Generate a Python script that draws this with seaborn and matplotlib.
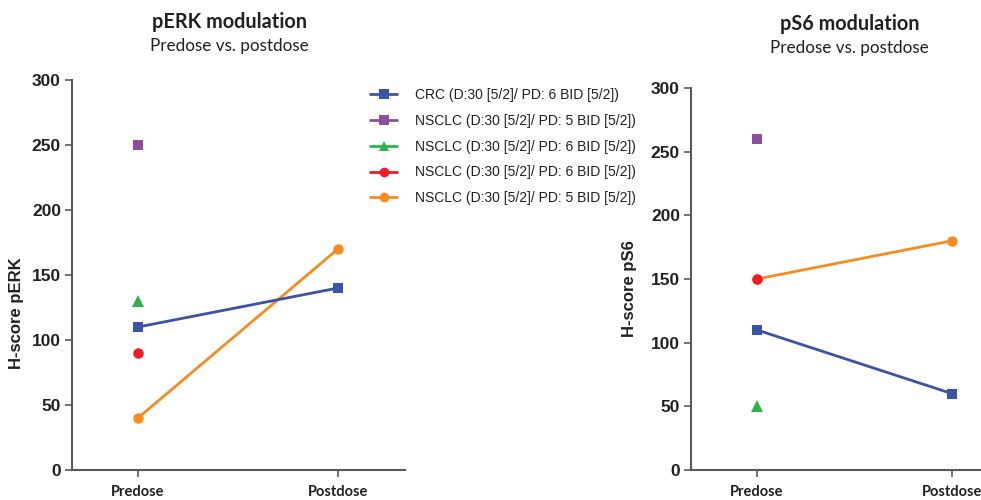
import matplotlib
matplotlib.use("Agg")
import matplotlib.pyplot as plt
import seaborn as sns
import pandas as pd
from matplotlib.lines import Line2D

sns.set_theme(style="ticks")
plt.rcParams['font.family'] = ['Liberation Sans', 'DejaVu Sans']

timepoints = ["Predose", "Postdose"]
series_labels = [
    "CRC (D:30 [5/2]/ PD: 6 BID [5/2])",
    "NSCLC (D:30 [5/2]/ PD: 5 BID [5/2])",
    "NSCLC (D:30 [5/2]/ PD: 6 BID [5/2])",
    "NSCLC (D:30 [5/2]/ PD: 6 BID [5/2])",
    "NSCLC (D:30 [5/2]/ PD: 5 BID [5/2])",
]
series_colors = ["#3A53A4", "#8D4E9F", "#2EB24B", "#ED1C24", "#F68B1F"]
series_markers = ["s", "s", "^", "o", "o"]
series_zorder = [4, 3, 3, 5, 2]

# values per series: [Predose, Postdose] (None = not measured)
perk_crc = [110, 140]
perk_nsclc_a = [250, None]
perk_nsclc_b = [130, None]
perk_nsclc_c = [90, None]
perk_nsclc_d = [40, 170]

ps6_crc = [110, 60]
ps6_nsclc_a = [260, None]
ps6_nsclc_b = [50, None]
ps6_nsclc_c = [150, None]
ps6_nsclc_d = [150, 180]

perk_series = [perk_crc, perk_nsclc_a, perk_nsclc_b, perk_nsclc_c, perk_nsclc_d]
ps6_series = [ps6_crc, ps6_nsclc_a, ps6_nsclc_b, ps6_nsclc_c, ps6_nsclc_d]

yticks = [0, 50, 100, 150, 200, 250, 300]

fig = plt.figure(figsize=(9.81, 5.0), dpi=100)
ax1 = fig.add_axes([0.0734, 0.06, 0.3394, 0.78])
ax2 = fig.add_axes([0.7044, 0.06, 0.2956, 0.764])


def draw(ax, series, xlim, ylabel, label_xy):
    for vals, col, mk, zo in zip(series, series_colors, series_markers, series_zorder):
        xs = [i for i, v in enumerate(vals) if v is not None]
        ys = [v for v in vals if v is not None]
        df = pd.DataFrame({"x": xs, "y": ys})
        sns.lineplot(data=df, x="x", y="y", ax=ax, color=col, marker=mk,
                     markersize=7.5 if mk != "^" else 8, markeredgewidth=0,
                     linewidth=2, zorder=zo, legend=False)
    ax.set_xlim(*xlim)
    ax.set_ylim(0, 300)
    ax.set_yticks(yticks)
    ax.set_xticks([0, 1])
    ax.set_xticklabels(timepoints, fontfamily="Lato", fontweight="bold", fontsize=10.5, color="#231F20")
    for lab in ax.get_yticklabels():
        lab.set_fontweight("bold")
        lab.set_fontsize(12.5)
        lab.set_color("#231F20")
    ax.set_xlabel("")
    ax.set_ylabel(ylabel, fontweight="bold", fontsize=12, color="#231F20")
    ax.yaxis.set_label_coords(*label_xy)
    for side in ["top", "right"]:
        ax.spines[side].set_visible(False)
    for side in ["left", "bottom"]:
        ax.spines[side].set_color("#58595B")
        ax.spines[side].set_linewidth(1.5)
    ax.tick_params(axis="both", direction="out", length=5, width=1.2, color="#58595B")
    ax.tick_params(axis="x", pad=6)
    ax.tick_params(axis="y", pad=3)
    ax.patch.set_alpha(0)


draw(ax1, perk_series, (-0.33, 1.335), "H-score pERK", (-0.144, 0.403))
draw(ax2, ps6_series, (-0.338, 1.149), "H-score pS6", (-0.186, 0.474))

fig.text(0.234, 0.955, "pERK modulation", ha="center", va="center",
         fontfamily="Lato", fontweight="bold", fontsize=14.3, color="#231F20")
fig.text(0.234, 0.909, "Predose vs. postdose", ha="center", va="center",
         fontfamily="Lato", fontsize=12.3, color="#231F20")
fig.text(0.866, 0.951, "pS6 modulation", ha="center", va="center",
         fontfamily="Lato", fontweight="bold", fontsize=14.3, color="#231F20")
fig.text(0.866, 0.904, "Predose vs. postdose", ha="center", va="center",
         fontfamily="Lato", fontsize=12.3, color="#231F20")

handles = [Line2D([0], [0], color=c, marker=m, markersize=7 if m != "^" else 7.5,
                  markeredgewidth=0, linewidth=2)
           for c, m in zip(series_colors, series_markers)]
fig.legend(handles, series_labels, loc="upper left", bbox_to_anchor=(0.372, 0.835),
           frameon=False, fontsize=10, handlelength=1.9, handletextpad=1.3,
           labelspacing=0.85, borderaxespad=0, labelcolor="#231F20")

fig.savefig("out.png", dpi=100)
